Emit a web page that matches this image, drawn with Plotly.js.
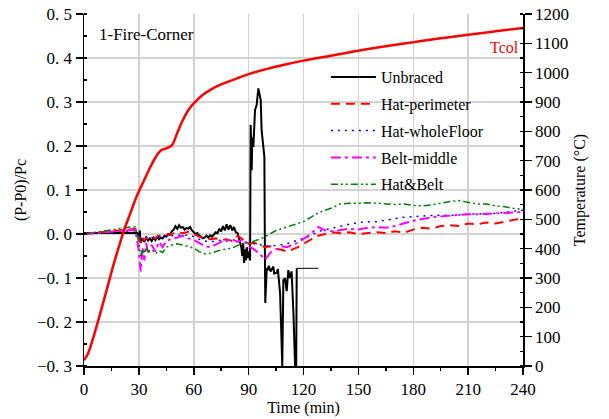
<!DOCTYPE html>
<html>
<head>
<meta charset="utf-8">
<script src="https://cdn.plot.ly/plotly-3.0.1.min.js"></script>
<style>html,body{margin:0;padding:0;background:#fff;}#chart{width:609px;height:419px;}</style>
</head>
<body>
<div id="chart"></div>
<script>
// ---- data ----
const unbracedTime = [0,5,10,15,20,25,28,29,30,30.5,31,32,33,34,35,36,37,38,39,40,41,42,43,44,45,46,47,48,49,50,51,52,53,54,55,56,57,58,59,60,61,62,63,64,65,66,67,68,69,70,71,72,73,74,75,76,77,78,79,80,81,82,83,84,85,86,86.5,87,87.5,88,88.5,89,89.5,90,90.8,91.1,91.5,91.7,92,92.6,93.5,94.4,95.3,96,96.6,97.1,98.6,99,99.1,99.9,100.5,101,102,103.5,104,105.3,106,107.2,108,108.4,109,109.9,110.8,111.7,112.6,113.5,114.5,115.4,116,116.3];
const unbracedVal = [0.002,0.002,0.002,0.002,0.002,0.002,0.002,0.003,-0.005,0.008,-0.02,-0.01,-0.018,-0.008,-0.015,-0.01,-0.016,-0.008,-0.014,-0.006,-0.012,-0.008,-0.01,-0.004,-0.006,0.0,-0.002,0.006,0.01,0.018,0.012,0.02,0.014,0.016,0.01,0.014,0.012,0.016,0.008,0.004,0.0,0.002,-0.004,-0.006,-0.01,-0.008,-0.004,-0.008,-0.003,-0.006,0.0,0.004,0.002,0.012,0.006,0.018,0.008,0.022,0.01,0.02,0.008,0.016,0.004,0.002,-0.015,-0.03,-0.05,-0.02,-0.066,-0.035,-0.06,-0.03,-0.055,-0.04,-0.06,0.248,0.2,0.145,0.22,0.198,0.282,0.293,0.331,0.32,0.305,0.236,0.176,-0.105,-0.157,-0.078,-0.08,-0.072,-0.085,-0.074,-0.09,-0.088,-0.08,-0.135,-0.3,-0.3,-0.105,-0.1,-0.13,-0.082,-0.1,-0.085,-0.18,-0.3,-0.3,-0.078];
const unbracedEndTime = [116.3,128];
const unbracedEndVal = [-0.078,-0.078];

const seriesTime = [0,5,10,15,20,25,28,30,31,32,33,34,35,37,39,41,43,45,48,51,54,57,60,63,66,69,72,75,78,81,84,87,90,93,96,99,102,105,108,111,114,117,120,124,128,132,136,140,145,150,155,160,165,170,175,180,185,190,195,200,205,210,215,220,225,230,235,240];
const hatPerimeter = [0,0.002,0.004,0.006,0.009,0.011,0.012,-0.01,-0.02,-0.005,-0.015,-0.008,-0.012,-0.006,-0.01,-0.004,-0.008,-0.003,0.0,0.004,0.002,0.005,0.0,-0.006,-0.01,-0.012,-0.01,-0.014,-0.012,-0.016,-0.004,-0.012,-0.022,-0.02,-0.025,-0.03,-0.028,-0.034,-0.036,-0.04,-0.035,-0.03,-0.022,-0.012,-0.004,0.0,0.004,0.002,0.004,0.0,0.002,0.004,0.002,0.006,0.003,0.01,0.014,0.012,0.018,0.02,0.018,0.024,0.022,0.026,0.024,0.028,0.032,0.036];
const hatWholeFloor = [0,0.001,0.003,0.004,0.006,0.008,0.008,-0.005,-0.015,-0.01,-0.012,-0.006,-0.01,-0.008,-0.01,-0.006,-0.008,-0.004,-0.004,-0.002,-0.004,-0.002,-0.006,-0.012,-0.016,-0.018,-0.016,-0.014,-0.016,-0.015,-0.012,-0.018,-0.02,-0.022,-0.024,-0.026,-0.028,-0.026,-0.024,-0.022,-0.018,-0.014,-0.01,-0.004,0.006,0.01,0.014,0.018,0.022,0.026,0.028,0.028,0.032,0.035,0.038,0.04,0.041,0.042,0.043,0.042,0.044,0.045,0.046,0.045,0.047,0.05,0.052,0.054];
const beltMiddle = [0,0.002,0.004,0.006,0.008,0.01,0.01,-0.04,-0.085,-0.03,-0.06,-0.02,-0.045,-0.025,-0.04,-0.018,-0.03,-0.015,-0.012,-0.008,-0.004,-0.01,-0.014,-0.02,-0.028,-0.03,-0.024,-0.018,-0.014,-0.012,-0.018,-0.012,-0.028,-0.035,-0.045,-0.058,-0.042,-0.034,-0.028,-0.03,-0.024,-0.02,-0.012,0.0,0.016,0.008,0.006,0.008,0.012,0.01,0.014,0.016,0.014,0.018,0.024,0.03,0.034,0.038,0.04,0.042,0.043,0.045,0.045,0.046,0.047,0.048,0.05,0.05];
const hatAndBelt = [0,0.003,0.006,0.009,0.012,0.016,0.016,-0.02,-0.05,-0.035,-0.045,-0.03,-0.04,-0.035,-0.045,-0.038,-0.042,-0.03,-0.025,-0.022,-0.025,-0.028,-0.032,-0.04,-0.045,-0.044,-0.04,-0.036,-0.034,-0.032,-0.026,-0.022,-0.02,-0.016,-0.012,-0.006,0.002,0.008,0.012,0.016,0.02,0.024,0.028,0.038,0.048,0.054,0.06,0.068,0.07,0.07,0.071,0.07,0.068,0.067,0.068,0.065,0.064,0.066,0.07,0.074,0.076,0.072,0.068,0.068,0.064,0.062,0.058,0.056];

const tempTime = [0,2,5,8,10,12,15,18,20,22,25,28,30,33,36,39,42,45,48,51,54,57,60,65,70,75,80,90,100,110,120,135,150,165,180,195,210,225,240];
const tcol = [20,40,95,160,205,250,320,385,425,465,515,566,595,635,675,710,735,742,752,795,838,872,895,925,945,960,972,995,1013,1028,1041,1058,1075,1090,1104,1117,1129,1141,1152];

const xTicks = [0,30,60,90,120,150,180,210,240];
const leftTickVals = [-0.3,-0.2,-0.1,0,0.1,0.2,0.3,0.4,0.5];
const leftTickText = ['\u22120. 3','\u22120. 2','\u22120. 1','0. 0','0. 1','0. 2','0. 3','0. 4','0. 5'];
const seriesNames = ['Unbraced','Hat-perimeter','Hat-wholeFloor','Belt-middle','Hat&Belt'];

// ---- chart ----
const serif = '"Liberation Serif", "Times New Roman", serif';
const traces = [
  {x: unbracedTime, y: unbracedVal, name: seriesNames[0], mode:'lines', line:{color:'#000', width:2}, legendgroup:'a'},
  {x: unbracedEndTime, y: unbracedEndVal, name: seriesNames[0], mode:'lines', line:{color:'#000', width:1}, showlegend:false, legendgroup:'a'},
  {x: seriesTime, y: hatPerimeter, name: seriesNames[1], mode:'lines', line:{color:'#ff0000', width:2, dash:'9px,6px'}, legendgroup:'b'},
  {x: seriesTime, y: hatWholeFloor, name: seriesNames[2], mode:'lines', line:{color:'#0000ff', width:1.5, dash:'2px,5px'}, legendgroup:'c'},
  {x: seriesTime, y: beltMiddle, name: seriesNames[3], mode:'lines', line:{color:'#ff00ff', width:2, dash:'10px,4px,3px,4px'}, legendgroup:'d'},
  {x: seriesTime, y: hatAndBelt, name: seriesNames[4], mode:'lines', line:{color:'#008000', width:1.5, dash:'7px,3px,2px,3px,2px,3px'}, legendgroup:'e'},
  {x: tempTime, y: tcol, name:'Tcol', yaxis:'y2', mode:'lines', line:{color:'#ff0000', width:2.5, shape:'spline'}, showlegend:false}
];

const layout = {
  width: 609, height: 419,
  margin: {l:84, r:86, t:14, b:53},
  paper_bgcolor:'#fff', plot_bgcolor:'#fff',
  font: {family: serif, color:'#000', size:16},
  showlegend: true,
  legend: {x:0.551, y:0.869, xanchor:'left', yanchor:'top', bgcolor:'rgba(255,255,255,0)', borderwidth:0,
           font:{family: serif, size:16, color:'#000'}, itemwidth:45, tracegroupgap:3, traceorder:'grouped'},
  shapes: [
    {type:'rect', xref:'paper', yref:'paper', x0:0.514, x1:0.947, y0:0.485, y1:0.872,
     fillcolor:'#fff', line:{width:0}, layer:'between'}
  ],
  xaxis: {range:[0,240], tickvals:xTicks, ticks:'outside', ticklen:7, tickwidth:1.5, tickcolor:'#000',
          showline:true, linecolor:'#000', linewidth:1.5, showgrid:true, gridcolor:'#d3d3d3', gridwidth:1.5,
          zeroline:false, tickfont:{size:17, family:serif},
          minor:{dtick:15, tick0:0, ticks:'outside', ticklen:3, tickcolor:'#000', showgrid:false},
          title:{text:'Time (min)', font:{size:16, family:serif}, standoff:2}},
  yaxis: {range:[-0.3,0.5], tickvals:leftTickVals, ticktext:leftTickText, ticks:'outside', ticklen:7, tickwidth:1.5, tickcolor:'#000',
          showline:true, linecolor:'#000', linewidth:1.5, showgrid:true, gridcolor:'#d3d3d3', gridwidth:1.5,
          zeroline:false, tickfont:{size:17, family:serif},
          minor:{dtick:0.05, tick0:0, ticks:'inside', ticklen:3, tickcolor:'#000', showgrid:false},
          title:{text:'(P-P0)/Pc', font:{size:16, family:serif}, standoff:6}},
  yaxis2: {range:[0,1200], dtick:100, overlaying:'y', side:'right', ticks:'outside', ticklen:7, tickwidth:1.5, tickcolor:'#000',
          showline:true, linecolor:'#000', linewidth:1.5, showgrid:false, zeroline:false, tickfont:{size:17, family:serif},
          minor:{dtick:50, tick0:0, ticks:'inside', ticklen:3, tickcolor:'#000', showgrid:false},
          title:{text:'Temperature (°C)', font:{size:16, family:serif}, standoff:6}},
  annotations: [
    {text:'1-Fire-Corner', xref:'paper', yref:'paper', x:0.03, y:0.943, xanchor:'left', yanchor:'middle', showarrow:false,
     font:{size:17, family:serif, color:'#000'}},
    {text:'Tcol', xref:'paper', yref:'paper', x:0.995, y:0.906, xanchor:'right', yanchor:'middle', showarrow:false,
     font:{size:16, family:serif, color:'#ff0000'}}
  ]
};

Plotly.newPlot('chart', traces, layout, {displayModeBar:false, staticPlot:true});
</script>
</body>
</html>
